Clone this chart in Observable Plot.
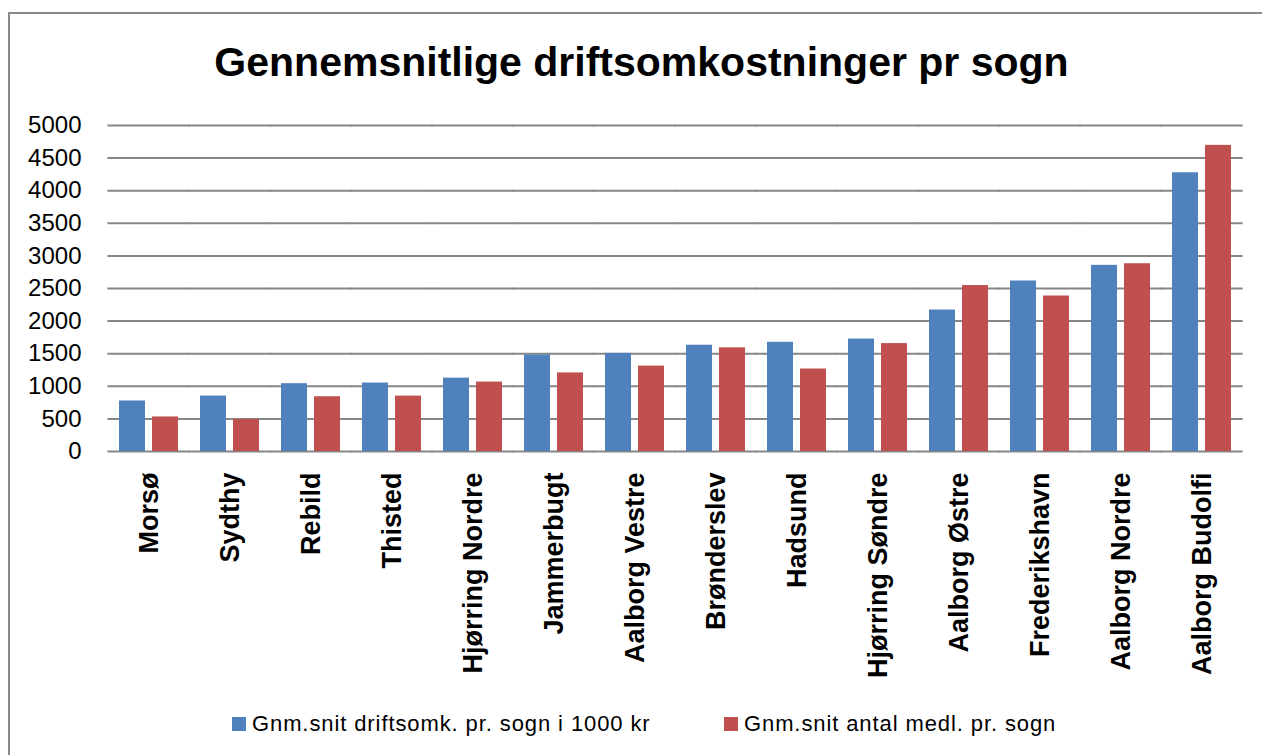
<!DOCTYPE html>
<html>
<head>
<meta charset="utf-8">
<script src="https://cdn.jsdelivr.net/npm/d3@7"></script>
<script src="https://cdn.jsdelivr.net/npm/@observablehq/plot@0.6"></script>
<style>
  html, body { margin: 0; padding: 0; background: #fff; }
  #wrap { position: relative; width: 1262px; height: 755px; overflow: hidden; font-family: "Liberation Sans", Arial, sans-serif; }
  #frame { position: absolute; left: 8px; top: 12px; width: 1300px; height: 800px; border: 2px solid #898989; box-sizing: border-box; }
  #chart { position: absolute; left: 0; top: 0; }
  #title { position: absolute; left: 0; top: 42px; width: 1262px; padding-left: 21px; box-sizing: border-box; text-align: center; font-weight: bold; font-size: 41px; line-height: 41px; color: #000; white-space: nowrap; }
  .leg { position: absolute; top: 713px; display: flex; align-items: center; font-size: 22px; line-height: 22px; letter-spacing: 0.9px; color: #000; white-space: nowrap; }
  .sw { width: 14px; height: 14px; margin-right: 6px; }
</style>
</head>
<body>
<div id="wrap">
  <div id="frame"></div>
  <div id="chart"></div>
  <div id="title"></div>
  <div id="legend"></div>
</div>
<script>
const titleText = "Gennemsnitlige driftsomkostninger pr sogn";
const categories = ["Morsø","Sydthy","Rebild","Thisted","Hjørring Nordre","Jammerbugt","Aalborg Vestre","Brønderslev","Hadsund","Hjørring Søndre","Aalborg Østre","Frederikshavn","Aalborg Nordre","Aalborg Budolfi"];
const seriesNames = ["Gnm.snit driftsomk. pr. sogn i 1000 kr","Gnm.snit antal medl. pr. sogn"];
const driftsomk = [775, 850, 1040, 1050, 1125, 1480, 1505, 1630, 1675, 1725, 2170, 2615, 2855, 4275];
const medlemmer = [530, 490, 840, 850, 1065, 1205, 1310, 1590, 1265, 1655, 2545, 2385, 2880, 4695];
const seriesColors = ["#4F81BD", "#C0504D"];
const yTicks = [0, 500, 1000, 1500, 2000, 2500, 3000, 3500, 4000, 4500, 5000];

const table = [];
categories.forEach((c, i) => {
  table.push({category: c, series: seriesNames[0], value: driftsomk[i]});
  table.push({category: c, series: seriesNames[1], value: medlemmer[i]});
});

document.getElementById("title").textContent = titleText;

const chart = Plot.plot({
  width: 1262,
  height: 700,
  marginTop: 125,
  marginLeft: 105,
  marginRight: 18,
  marginBottom: 249,
  style: {background: "transparent", color: "black", fontFamily: "'Liberation Sans', Arial, sans-serif", overflow: "visible"},
  fx: {domain: categories, paddingInner: 0.25, paddingOuter: 0.123, label: null},
  x: {domain: seriesNames, paddingInner: 0.2, paddingOuter: 0, axis: null},
  y: {domain: [0, 5000], label: null},
  color: {domain: seriesNames, range: seriesColors},
  marks: [
    Plot.ruleY(yTicks, {stroke: "#868686", strokeWidth: 2, insetLeft: -10.6, insetRight: -10.6}),
    Plot.barY(table, {fx: "category", x: "series", y: "value", fill: "series"}),
    Plot.axisY({ticks: yTicks, tickSize: 0, tickPadding: 37, fontSize: 24, label: null, tickFormat: d => String(d)}),
    Plot.axisFx({anchor: "bottom", tickRotate: -90, tickSize: 0, tickPadding: 21, fontSize: 27, fontWeight: "bold", lineWidth: 1000, label: null})
  ]
});
document.getElementById("chart").appendChild(chart);

const legend = document.getElementById("legend");
const legLefts = [232, 724];
seriesNames.forEach((s, i) => {
  const item = document.createElement("div");
  item.className = "leg";
  item.style.left = legLefts[i] + "px";
  const sw = document.createElement("div");
  sw.className = "sw";
  sw.style.background = seriesColors[i];
  const tx = document.createElement("span");
  tx.textContent = s;
  item.appendChild(sw);
  item.appendChild(tx);
  legend.appendChild(item);
});
</script>
</body>
</html>
